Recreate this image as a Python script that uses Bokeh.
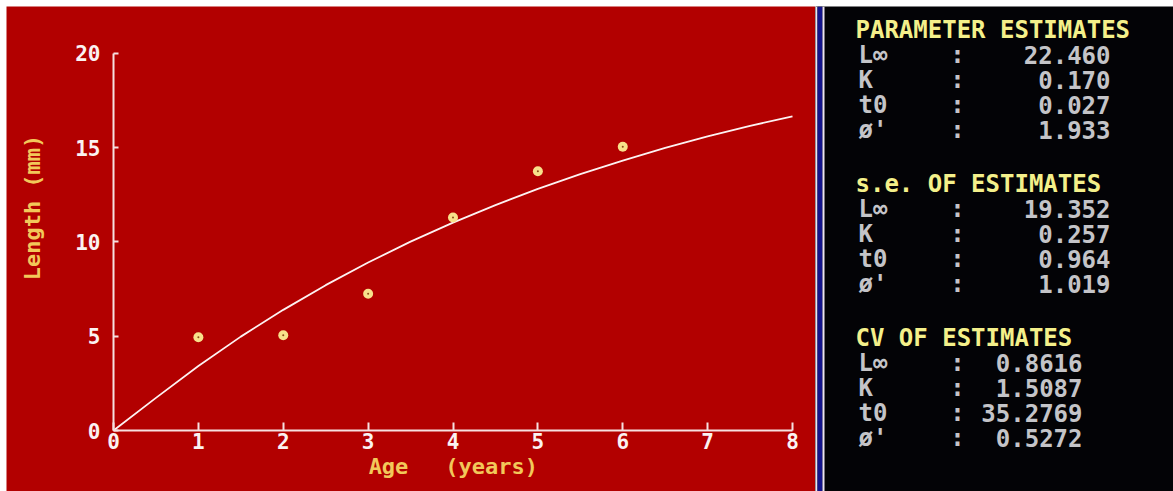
from bokeh.plotting import figure
from bokeh.layouts import row
from bokeh.models import Range1d, FixedTicker, Label, Span
from bokeh.core.properties import value
from bokeh.embed import file_html
from bokeh.resources import INLINE
import math

# ---------------- data ----------------
ages = [1, 2, 3, 4, 5, 6]
lengths = [4.95, 5.05, 7.25, 11.3, 13.75, 15.05]

curve_age = [0, 0.5, 1, 1.5, 2, 2.5, 3, 3.5, 4, 4.5, 5, 5.5, 6, 6.5, 7, 7.5, 8]
curve_len = [0.0, 1.73, 3.42, 4.98, 6.40, 7.71, 8.91, 10.02, 11.03, 11.96,
             12.82, 13.60, 14.32, 14.99, 15.60, 16.16, 16.67]

x_ticks = [0, 1, 2, 3, 4, 5, 6, 7, 8]
y_ticks = [0, 5, 10, 15, 20]

param_labels = ["L\u221e", "K", "t0", "\u00f8'"]
headers = ["PARAMETER ESTIMATES", "s.e. OF ESTIMATES", "CV OF ESTIMATES"]
estimates = ["22.460", "0.170", "0.027", "1.933"]
std_errors = ["19.352", "0.257", "0.964", "1.019"]
cvs = ["0.8616", "1.5087", "35.2769", "0.5272"]

# ---------------- styles ----------------
RED = "#b20000"
AXIS = "#f6e0e0"
TICKTXT = "#fbf2f2"
YELLOW = "#f2c85a"
MONO = "DejaVu Sans Mono"

# ---------------- left chart ----------------
p = figure(width=815, height=491, output_backend="svg", toolbar_location=None,
           x_range=Range1d(-1.2607, 8.2710), y_range=Range1d(-3.236, 22.493),
           min_border_left=6, min_border_top=6,
           min_border_right=0, min_border_bottom=0)
p.background_fill_color = RED
p.border_fill_color = "white"
p.outline_line_color = None
p.grid.visible = False

for ax in (p.xaxis[0], p.yaxis[0]):
    ax.fixed_location = 0
    ax.axis_line_color = AXIS
    ax.axis_line_width = 2
    ax.major_tick_line_color = AXIS
    ax.major_tick_line_width = 2
    ax.major_tick_out = 0
    ax.minor_tick_line_color = None
    ax.major_label_text_font = MONO
    ax.major_label_text_font_style = "bold"
    ax.major_label_text_font_size = "21px"
    ax.major_label_text_color = TICKTXT

p.xaxis[0].bounds = (0, 8)
p.yaxis[0].bounds = (0, 20)
p.xaxis[0].ticker = FixedTicker(ticks=x_ticks)
p.yaxis[0].ticker = FixedTicker(ticks=y_ticks)
p.xaxis[0].major_tick_in = 8
p.yaxis[0].major_tick_in = 5
p.xaxis[0].major_label_standoff = 2
p.yaxis[0].major_label_standoff = 13

p.line(curve_age, curve_len, line_color="#fdf2f2", line_width=1.8)
p.scatter(ages, lengths, size=10, marker="circle", fill_color="#f8e08a",
          line_color=None)
p.scatter(ages, lengths, size=2, marker="circle", fill_color="#8a4a18",
          line_color=None)

lab_style = dict(text_font=MONO, text_font_style="bold",
                 text_font_size="22px", text_color=YELLOW,
                 text_align="center", text_baseline="middle")
p.add_layout(Label(x=-0.954, y=11.83, text="Length (mm)", angle=math.pi / 2,
                   **lab_style))
p.add_layout(Label(x=3.240, y=-1.91, text="Age", **lab_style))
p.add_layout(Label(x=4.454, y=-1.91, text="(years)", **lab_style))

# ---------------- right panel ----------------
q = figure(width=358, height=491, output_backend="svg", toolbar_location=None,
           x_range=Range1d(815, 1173), y_range=Range1d(491, 6),
           min_border_top=6, min_border_left=0,
           min_border_right=0, min_border_bottom=0)
q.background_fill_color = "#030306"
q.border_fill_color = "white"
q.outline_line_color = None
q.grid.visible = False
q.axis.visible = False

q.add_layout(Span(location=816, dimension="height", line_color="#ece4f2", line_width=2))
q.add_layout(Span(location=819.5, dimension="height", line_color="#14148c", line_width=5))
q.add_layout(Span(location=823, dimension="height", line_color="#ece4f2", line_width=2))

section_top = [29, 183, 337]
row_step = 25
value_right = [1110, 1110, 1082]
value_lists = [estimates, std_errors, cvs]

hx, hy, ht = [], [], []
lx, ly, lt = [], [], []
cx, cy = [], []
vx, vy, vt = [], [], []
for s, head in enumerate(headers):
    top = section_top[s]
    hx.append(855); hy.append(top); ht.append(head)
    for k, lab in enumerate(param_labels):
        yy = top + row_step * (k + 1)
        lx.append(858); ly.append(yy); lt.append(lab)
        cx.append(957); cy.append(yy)
        vx.append(value_right[s]); vy.append(yy); vt.append(value_lists[s][k])

common = dict(text_font=value(MONO), text_font_style="bold",
              text_font_size="24px", text_baseline="middle")
q.text(x=hx, y=hy, text=ht, text_color="#f4f08a", text_align="left", **common)
q.text(x=lx, y=ly, text=lt, text_color="#c4c4c8", text_align="left", **common)
q.text(x=cx, y=cy, text=[":"] * len(cx), text_color="#c4c4c8",
       text_align="center", **common)
q.text(x=vx, y=vy, text=vt, text_color="#c4c4c8", text_align="right", **common)

layout = row(p, q, spacing=0)
open("out.html", "w").write(file_html(layout, INLINE))
